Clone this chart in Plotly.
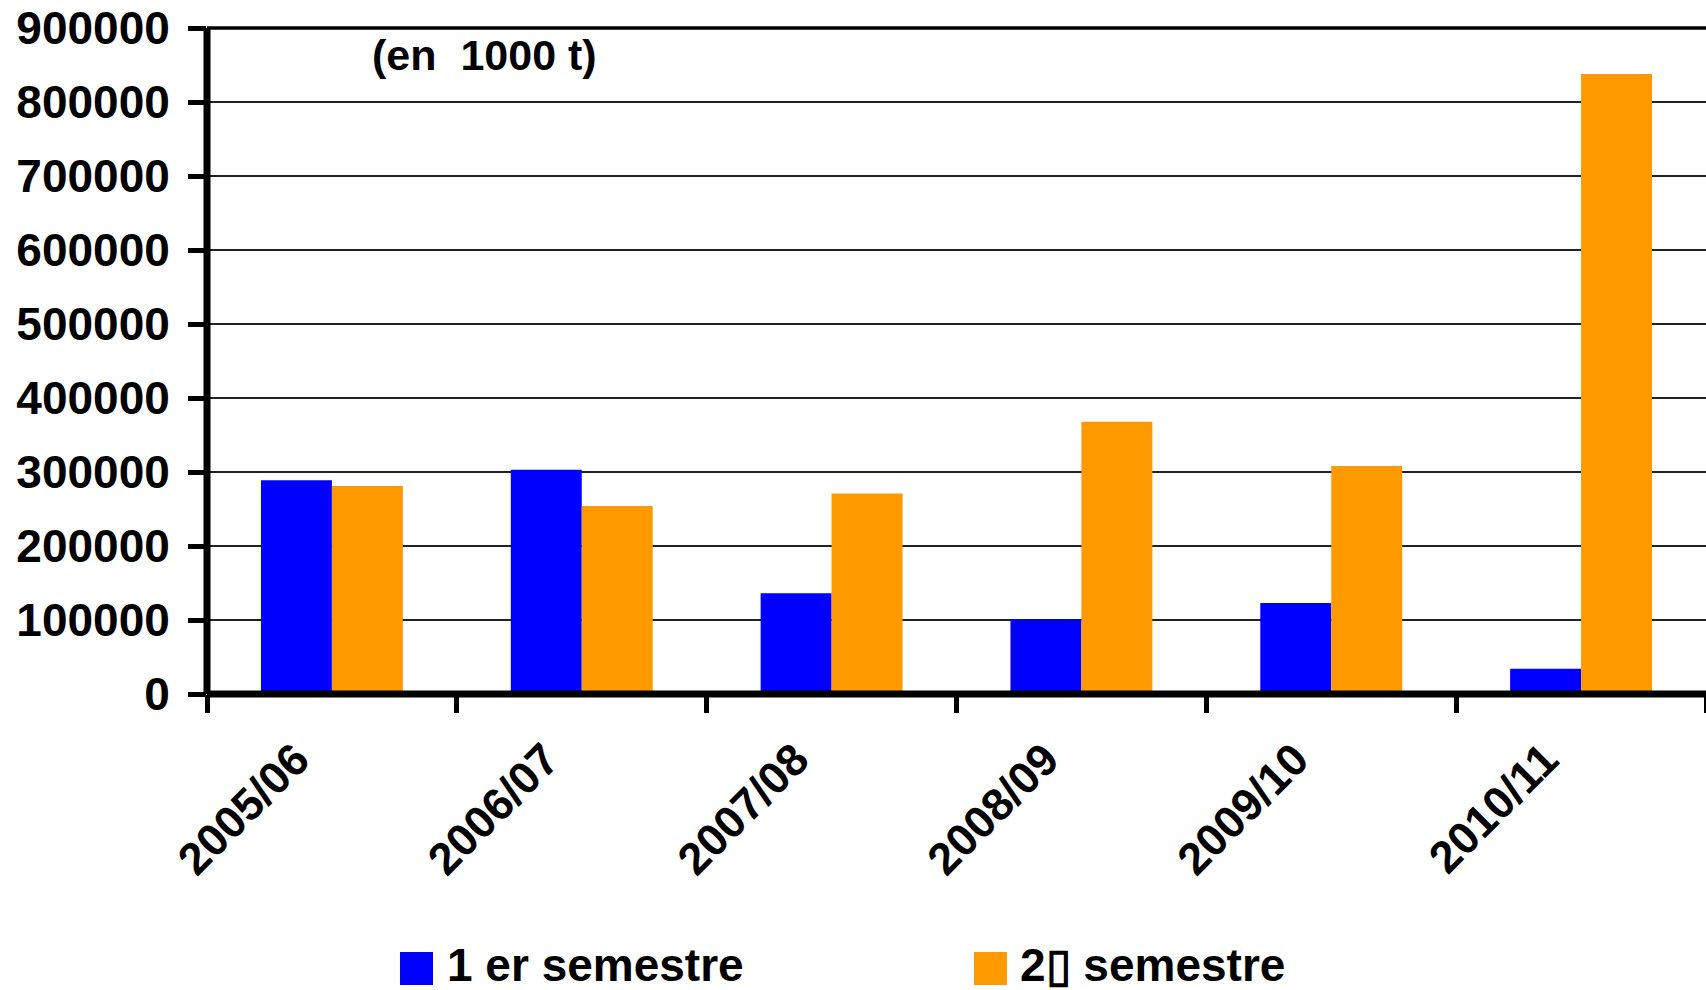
import plotly.graph_objects as go

# Campaign years and tonnages (in 1000 t) per half-year
campagnes = ["2005/06", "2006/07", "2007/08", "2008/09", "2009/10", "2010/11"]
semestre_1 = [289000, 303000, 136000, 101000, 123000, 34000]
semestre_2 = [281000, 254000, 271000, 368000, 308000, 838000]
noms = ["1 er semestre", "2\u25af semestre"]
couleurs = ["#0000FF", "#FF9900"]
y_ticks = [0, 100000, 200000, 300000, 400000, 500000, 600000, 700000, 800000, 900000]

W, H = 1706, 990
L, R, T, B = 207, 0, 28, 296
PW, PH = W - L - R, H - T - B
FONT = "Liberation Sans, Arial, sans-serif"


def px_x(x):
    return (x - L) / PW


def px_y(y):
    return (H - B - y) / PH


fig = go.Figure()
for nom, vals, col in zip(noms, [semestre_1, semestre_2], couleurs):
    fig.add_trace(go.Bar(x=campagnes, y=vals, name=nom, marker=dict(color=col, line=dict(width=0)),
                         showlegend=False))

fig.update_layout(
    width=W, height=H,
    margin=dict(l=L, r=R, t=T, b=B, pad=0),
    paper_bgcolor="white", plot_bgcolor="white",
    barmode="group", bargap=0.432, bargroupgap=0,
    font=dict(family=FONT, color="black"),
)

fig.update_yaxes(
    range=[0, 900000], tickvals=y_ticks, ticktext=[str(v) for v in y_ticks],
    showgrid=True, gridcolor="#222222", gridwidth=1.5,
    showline=False,
    ticks="outside", ticklen=18, tickwidth=5, tickcolor="black",
    ticklabelstandoff=9,
    tickfont=dict(size=46, family=FONT, weight="bold"),
    zeroline=False,
)
fig.update_xaxes(
    type="category", showgrid=False,
    showline=False,
    ticks="outside", tickson="boundaries", ticklen=18, tickwidth=5, tickcolor="black",
    tickangle=-45, ticklabelstandoff=29, ticklabelshift=-36,
    tickfont=dict(size=45, family=FONT, weight="bold"),
)

# axis frame: left and bottom axes, thin top edge
fig.add_shape(type="line", xref="paper", yref="paper", x0=0, x1=0, y0=0, y1=1,
              line=dict(color="black", width=7), layer="above")
fig.add_shape(type="line", xref="paper", yref="paper", x0=0, x1=1, y0=0, y1=0,
              line=dict(color="black", width=7), layer="above")
fig.add_shape(type="line", xref="paper", yref="paper", x0=0, x1=1, y0=1, y1=1,
              line=dict(color="black", width=3.5), layer="above")

# unit note
fig.add_annotation(text="(en\u00a0 1000 t)", xref="paper", yref="paper",
                   x=px_x(484), y=px_y(55), xanchor="center", yanchor="middle",
                   showarrow=False, font=dict(size=43, family=FONT, weight="bold"))

# legend: swatches and labels
for nom, col, sx, tx in zip(noms, couleurs, [400, 974], [446, 1019]):
    fig.add_shape(type="rect", xref="paper", yref="paper",
                  x0=px_x(sx), x1=px_x(sx + 33), y0=px_y(952), y1=px_y(985),
                  fillcolor=col, line=dict(width=0))
    fig.add_annotation(text=nom, xref="paper", yref="paper",
                       x=px_x(tx), y=px_y(965), xanchor="left", yanchor="middle",
                       borderpad=0, showarrow=False,
                       font=dict(size=46, family=FONT, weight="bold"))

fig.write_html("out.html")
